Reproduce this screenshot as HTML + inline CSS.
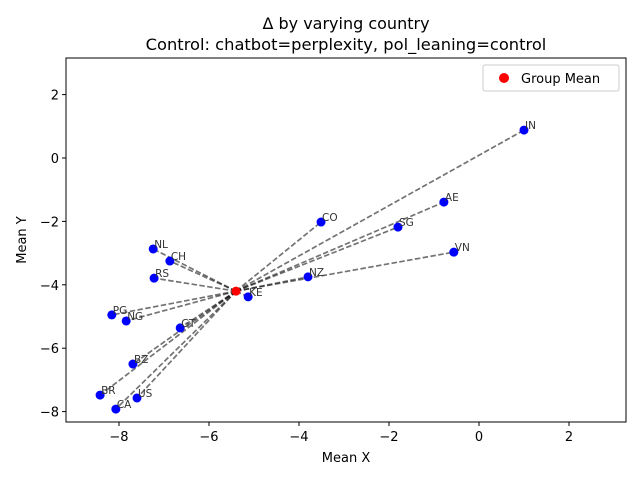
<!DOCTYPE html>
<html><head><meta charset="utf-8"><style>body{margin:0;background:#fff}svg{font-family:"DejaVu Sans","Liberation Sans",sans-serif}</style></head>
<body>
<svg id="chart" width="640" height="480">
<text x="346" y="29" text-anchor="middle" font-size="16">Δ by varying country</text>
<text x="346" y="50" text-anchor="middle" font-size="16.3">Control: chatbot=perplexity, pol_leaning=control</text>
<g id="plot"></g>
<rect x="66" y="58" width="560" height="364" fill="none" stroke="#000" stroke-width="1"/>
<text x="346" y="462" text-anchor="middle" font-size="13">Mean X</text>
<text x="26" y="240" text-anchor="middle" font-size="13" transform="rotate(-90 26 240)">Mean Y</text>
<g>
<rect x="483" y="65" width="136" height="26" fill="#fff" stroke="#ccc" rx="2"/>
<circle cx="504" cy="78" r="5" fill="red"/>
<text x="521" y="83" font-size="13">Group Mean</text>
</g>
</svg>
<script>
const countries=["IN","AE","SG","VN","CO","NZ","NL","CH","RS","KE","PG","NG","GT","BZ","BR","US","CA"];
const xs=[1.0,-0.78,-1.8,-0.56,-3.51,-3.8,-7.24,-6.87,-7.22,-5.13,-8.16,-7.84,-6.64,-7.69,-8.42,-7.6,-8.07];
const ys=[0.88,-1.39,-2.18,-2.97,-2.02,-3.75,-2.87,-3.25,-3.79,-4.38,-4.95,-5.14,-5.36,-6.5,-7.48,-7.57,-7.92];
const meanX=[-5.4];
const meanY=[-4.2];
const xTicks=[-8,-6,-4,-2,0,2];
const yTicks=[2,0,-2,-4,-6,-8];
const sx=v=>479+45*v, sy=v=>158-31.7*v;
const NS="http://www.w3.org/2000/svg", g=document.getElementById('plot');
function mk(t,a){const e=document.createElementNS(NS,t);for(const k in a)e.setAttribute(k,a[k]);g.appendChild(e);return e;}
xTicks.forEach(t=>{
 const l=mk('line',{x1:sx(t),x2:sx(t),y1:422,y2:426,stroke:'#000'});
 
 
 const tx=mk('text',{x:sx(t),y:441,'text-anchor':'middle','font-size':13});tx.textContent=t<0?'\u2212'+(-t):t;
 
 
});
yTicks.forEach(t=>{
 const l=mk('line',{x1:62,x2:66,y1:sy(t),y2:sy(t),stroke:'#000'});
 
 
 const tx=mk('text',{x:59,y:sy(t)+5,'text-anchor':'end','font-size':13});tx.textContent=t<0?'\u2212'+(-t):t;
 
 
});
countries.forEach((c,i)=>{
 const l=mk('line',{x1:sx(meanX[0]),y1:sy(meanY[0]),x2:sx(xs[i]),y2:sy(ys[i]),stroke:'#000','stroke-opacity':0.55,'stroke-width':1.7,'stroke-dasharray':'5.5,2.4'});
 
 
});
countries.forEach((c,i)=>{
 const p=mk('circle',{cx:sx(xs[i]),cy:sy(ys[i]),r:4.5,fill:'#0000ff'});
 
 
 const t=mk('text',{x:sx(xs[i])+1,y:sy(ys[i])-1,'font-size':10.5,fill:'#333'});t.textContent=c;
 
 
});
const m=mk('circle',{cx:sx(meanX[0]),cy:sy(meanY[0]),r:4.5,fill:'red'});


</script>
</body></html>
